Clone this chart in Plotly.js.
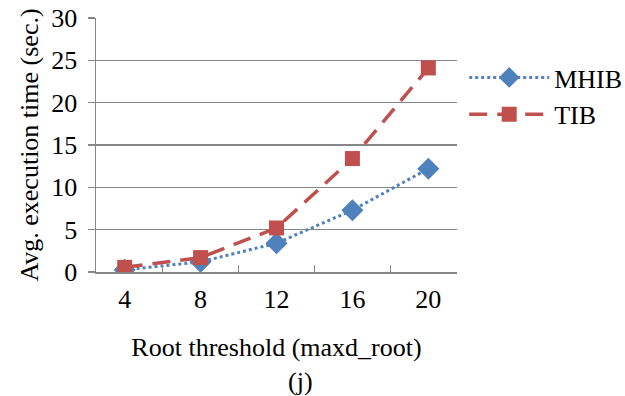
<!DOCTYPE html>
<html>
<head>
<meta charset="utf-8">
<script src="https://cdn.plot.ly/plotly-3.0.1.min.js"></script>
<style>html,body{margin:0;padding:0;background:#fff;}#chart{width:625px;height:396px;}</style>
</head>
<body>
<div id="chart"></div>
<script>
const categories = ["4", "8", "12", "16", "20"];
const mhib = [0.25, 1.2, 3.4, 7.3, 12.2];
const tib = [0.55, 1.7, 5.2, 13.4, 24.1];
const yTicks = [0, 5, 10, 15, 20, 25, 30];

function f(size) {
  return {family: "Liberation Serif", size: size || 26, color: "#000"};
}

const traces = [
  {
    x: categories, y: mhib, name: "MHIB", type: "scatter", mode: "lines+markers",
    line: {color: "#4F81BD", width: 3, dash: "dot"},
    marker: {symbol: "diamond", size: 17, color: "#4F81BD"}
  },
  {
    x: categories, y: tib, name: "TIB", type: "scatter", mode: "lines+markers",
    line: {color: "#C0504D", width: 3.5, dash: "18px,10px"},
    marker: {symbol: "square", size: 15, color: "#C0504D"}
  }
];

const layout = {
  width: 625, height: 396,
  margin: {l: 96, r: 168, t: 18, b: 124, autoexpand: false},
  paper_bgcolor: "#fff", plot_bgcolor: "#fff",
  font: f(),
  showlegend: true,
  legend: {x: 1.02, y: 0.693, xanchor: "left", yanchor: "middle", font: f(), tracegroupgap: 0, itemwidth: 80, bgcolor: "rgba(0,0,0,0)"},
  xaxis: {
    type: "category", tickson: "boundaries", ticks: "inside", ticklen: 7, tickcolor: "#868686", tickwidth: 1.5,
    showline: true, linecolor: "#868686", linewidth: 1.5, showgrid: false, zeroline: false,
    tickfont: f(), ticklabelstandoff: 3,
    title: {text: "Root threshold (maxd_root)", font: f(), standoff: 25}
  },
  yaxis: {
    range: [0, 30], tickvals: yTicks, ticks: "outside", ticklen: 7, tickcolor: "#868686", tickwidth: 1.5,
    showline: true, linecolor: "#868686", linewidth: 1.5, showgrid: true, gridcolor: "#868686", gridwidth: 1.5,
    zeroline: false, tickfont: f(), ticklabelstandoff: 5,
    title: {text: "Avg. execution time (sec.)", font: f(), standoff: 5}
  },
  annotations: [
    {text: "(j)", xref: "paper", yref: "paper", x: 0.567, y: -0.43, xanchor: "center", yanchor: "middle", showarrow: false, font: f()}
  ]
};

Plotly.newPlot("chart", traces, layout, {displayModeBar: false, staticPlot: true});
</script>
</body>
</html>
